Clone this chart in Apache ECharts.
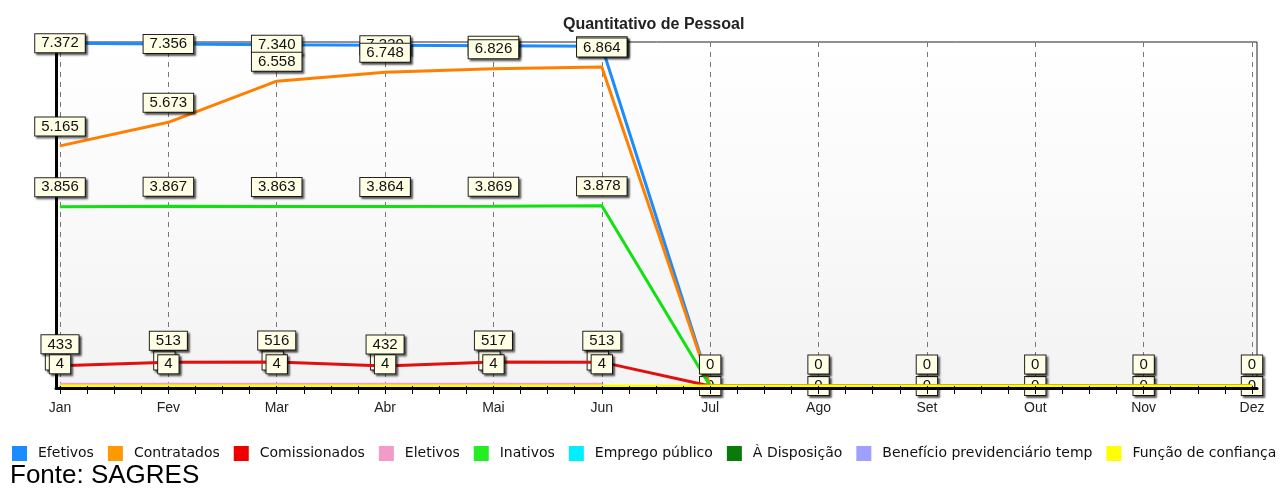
<!DOCTYPE html>
<html>
<head>
<meta charset="utf-8">
<script src="https://cdn.jsdelivr.net/npm/echarts@6/dist/echarts.min.js"></script>
<style>
html,body{margin:0;padding:0;background:#fff;}
#c{width:1284px;height:490px;}
</style>
</head>
<body>
<div id="c"></div>
<script>
// ---- data ----
const months = ['Jan','Fev','Mar','Abr','Mai','Jun','Jul','Ago','Set','Out','Nov','Dez'];
const efetivos      = [7372,7356,7340,7330,7320,7310,0,0,0,0,0,0];
const contratados   = [5165,5673,6558,6748,6826,6864,0,0,0,0,0,0];
const comissionados = [433,513,516,432,517,513,0,0,0,0,0,0];
const eletivos      = [4,4,4,4,4,4,null,null,null,null,null,null];
const inativos      = [3856,3867,3863,3864,3869,3878,0,0,0,0,0,0];
const empregoPublico= [0,0,0,0,0,0,0,0,0,0,0,0];
const aDisposicao   = [0,0,0,0,0,0,0,0,0,0,0,0];
const beneficio     = [0,0,0,0,0,0,0,0,0,0,0,0];
const funcaoConf    = [0,0,0,0,0,0,0,0,0,0,0,0];
const seriesNames = ['Efetivos','Contratados','Comissionados','Eletivos','Inativos','Emprego público','À Disposição','Benefício previdenciário temp','Função de confiança'];
const chartTitle = 'Quantitativo de Pessoal';
const sourceText = 'Fonte: SAGRES';

// ---- helpers ----
function fmt(v){ return String(v).replace(/\B(?=(\d{3})+(?!\d))/g,'.'); }
const boxLabel = {
  show:true, color:'#111', fontSize:15, fontFamily:'Liberation Sans',
  backgroundColor:'#ffffe6', borderColor:'#222', borderWidth:1,
  padding:[1,6,1,6], lineHeight:16,
  shadowColor:'rgba(0,0,0,0.55)', shadowBlur:2, shadowOffsetX:2, shadowOffsetY:2,
  formatter: p => fmt(p.value)
};
function items(arr, showFn){
  return arr.map((v,i)=>({value:v, label:{show: v!==null && showFn(i)}}));
}
const firstHalf = i => i < 6;
const all = i => true;
const none = i => false;

function lineSeries(name, data, color, lineColor, width, z, label){
  return {
    name, type:'line', xAxisIndex:1, yAxisIndex:1, data,
    symbol:'circle', symbolSize:1, showSymbol:true,
    itemStyle:{color}, lineStyle:{color:lineColor, width},
    label: Object.assign({}, boxLabel, label || {}),
    emphasis:{disabled:true}, z, connectNulls:false
  };
}

const chart = echarts.init(document.getElementById('c'));
chart.setOption({
  animation:false,
  backgroundColor:'#ffffff',
  title:{text:chartTitle, left:558, top:12,
    textStyle:{fontSize:16, fontWeight:'bold', color:'#222', fontFamily:'Liberation Sans'}},
  legend:{
    left:12, top:446, width:1272, padding:0, icon:'rect', itemWidth:15, itemHeight:15, itemGap:14,
    textStyle:{fontSize:14, color:'#111', fontFamily:'DejaVu Sans', padding:[0,0,0,6]},
    data: seriesNames
  },
  graphic:[{type:'text', left:10, bottom:1,
    style:{text:sourceText, fontSize:26, fill:'#000', fontFamily:'Liberation Sans'}}],
  grid:[
    {left:56, right:27, top:42, bottom:102, show:true, borderColor:'#222', borderWidth:1,
     backgroundColor:{type:'linear',x:0,y:0,x2:0,y2:1,colorStops:[
       {offset:0,color:'#ffffff'},{offset:0.45,color:'#fafafa'},{offset:1,color:'#f3f3f3'}]}},
    {left:60, right:32, top:42, bottom:104}
  ],
  xAxis:[
    {gridIndex:0, type:'value', min:0, max:1, z:10,
     axisLine:{show:true, lineStyle:{color:'#000', width:3}},
     axisTick:{show:false}, axisLabel:{show:false}, splitLine:{show:false}},
    {gridIndex:1, type:'category', data:months, boundaryGap:false, position:'bottom',
     axisLine:{show:false}, axisTick:{show:false},
     axisLabel:{margin:15, fontSize:14, color:'#222', fontFamily:'Liberation Sans', interval:0},
     splitLine:{show:true, interval:0, lineStyle:{color:'#777', type:[5,5], width:1}}},
    {gridIndex:1, type:'value', min:0, max:11, interval:1, position:'bottom', z:10,
     axisLine:{show:false}, axisLabel:{show:false}, splitLine:{show:false},
     axisTick:{show:true, length:8, lineStyle:{color:'#000'}},
     minorTick:{show:true, splitNumber:4, length:8, lineStyle:{color:'#000'}},
     minorSplitLine:{show:false}}
  ],
  yAxis:[
    {gridIndex:0, type:'value', min:0, max:1, z:1,
     axisLine:{show:true, lineStyle:{color:'#000', width:3}},
     axisTick:{show:false}, axisLabel:{show:false}, splitLine:{show:false}},
    {gridIndex:1, type:'value', min:0, max:7400, show:false}
  ],
  series:[
    lineSeries('Efetivos', items(efetivos, all), '#1a8cff', '#1a8cff', 3, 2, {position:'inside'}),
    lineSeries('Contratados', items(contratados, firstHalf), '#ff9900', '#ff8000', 3, 3, {position:'top', distance:10}),
    lineSeries('Inativos', items(inativos, firstHalf), '#22ee22', '#11e011', 3, 3, {position:'top', distance:10}),
    lineSeries('Emprego público', items(empregoPublico, firstHalf), '#00eeff', '#00eeff', 1, 3, {position:'top', distance:12, offset:[-4,-4]}),
    lineSeries('Comissionados', items(comissionados, all), '#ee0000', '#e01010', 3, 4, {position:'top', distance:12}),
    lineSeries('Eletivos', items(eletivos, firstHalf), '#f49ac9', '#f0a0d0', 6, 4, {position:'top', distance:12}),
    lineSeries('À Disposição', items(aDisposicao, none), '#0a7a0a', '#0a7a0a', 1, 3),
    lineSeries('Benefício previdenciário temp', items(beneficio, none), '#9f9fff', '#9f9fff', 1, 3),
    lineSeries('Função de confiança', items(funcaoConf, none), '#ffff00', '#ffff00', 3, 6)
  ]
});
</script>
</body>
</html>
